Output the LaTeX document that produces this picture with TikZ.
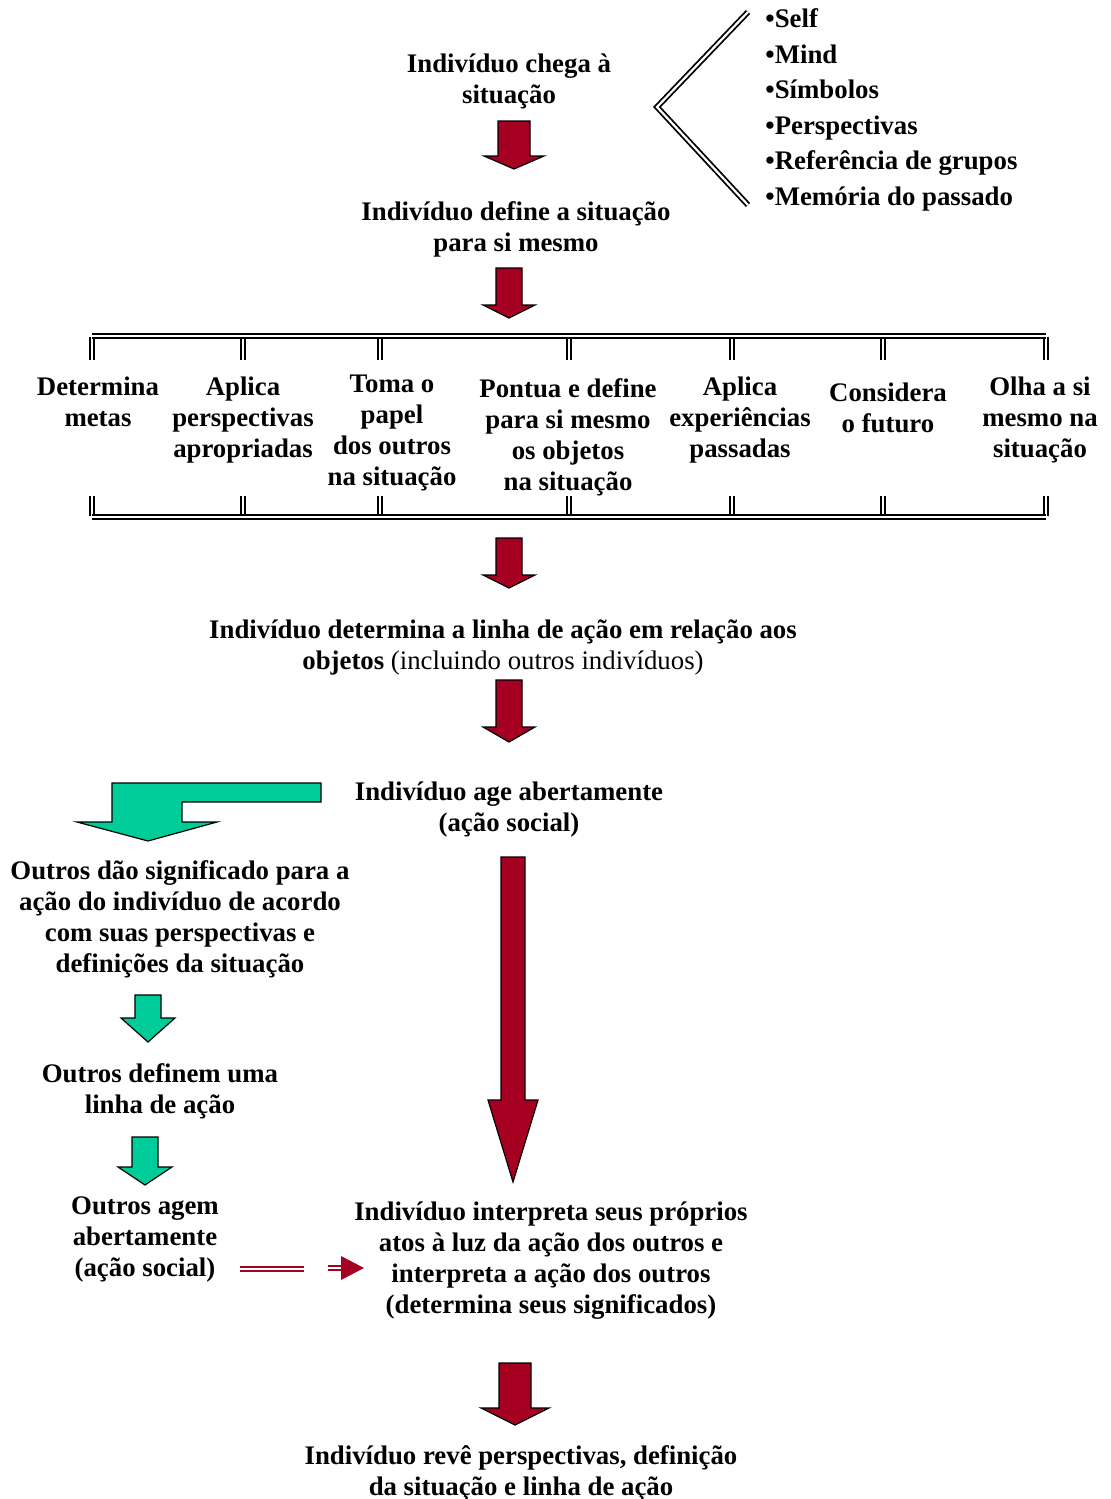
\documentclass[tikz,border=0pt]{standalone}
\usepackage{fontspec}
\setmainfont{Liberation Serif}

\definecolor{arrred}{RGB}{165,0,33}
\definecolor{arrgreen}{RGB}{0,204,153}

\tikzset{
  lbl/.style={font=\fontsize{13.4}{15.5}\selectfont\bfseries, align=center, inner sep=0pt},
  redfill/.style={fill=arrred, draw=black, line width=0.6pt},
  greenfill/.style={fill=arrgreen, draw=black, line width=0.6pt},
  dbl/.style={double, line width=0.9pt, double distance=1.1pt},
  dblred/.style={draw=arrred, double=white, line width=0.9pt, double distance=1.2pt},
}

% seta larga para baixo: estilo, x, topo, base da ponta, ponta, meia haste, meia ponta
\newcommand{\blockdown}[7]{%
  \draw[#1] (#2-#6,#3) -- (#2+#6,#3) -- (#2+#6,#4) -- (#2+#7,#4) -- (#2,#5)
    -- (#2-#7,#4) -- (#2-#6,#4) -- cycle;}

\begin{document}
\begin{tikzpicture}[x=0.5pt,y=-0.5pt]
\useasboundingbox (0,0) rectangle (1111,1499);

% topo
\node[lbl] (chega) at (509,81) {Indivíduo chega à\\situação};
\blockdown{redfill}{514}{121}{156}{169}{16}{30}
\node[lbl] (define) at (516,229) {Indivíduo define a situação\\para si mesmo};

% chave e lista
\draw[dbl] (748,12) -- (657,107) -- (748,205);
\node[lbl, align=left, anchor=west, font=\fontsize{13.4}{17.8}\selectfont\bfseries] (lista) at (765,110)
  {•Self\\•Mind\\•Símbolos\\•Perspectivas\\•Referência de grupos\\•Memória do passado};

\blockdown{redfill}{509}{268}{305}{318}{13}{26}

% caixa de etapas
\foreach \x in {92,243,380,569,732,883,1046}{
  \draw[dbl] (\x,337) -- (\x,360);
  \draw[dbl] (\x,496) -- (\x,516);
}
\draw[dbl] (92,336) -- (1046,336);
\draw[dbl] (92,517) -- (1046,517);
\node[lbl] (metas) at (98,402) {Determina\\metas};
\node[lbl] (persp) at (243,420) {Aplica\\perspectivas\\apropriadas};
\node[lbl] (papel) at (392,433) {Toma o\\papel\\dos outros\\na situação};
\node[lbl] (objetos) at (568,437) {Pontua e define\\para si mesmo\\os objetos\\na situação};
\node[lbl] (exper) at (740,420) {Aplica\\experiências\\passadas};
\node[lbl] (futuro) at (888,408) {Considera\\o futuro};
\node[lbl] (olha) at (1040,420) {Olha a si\\mesmo na\\situação};

\blockdown{redfill}{509}{538}{575}{588}{13}{26}
\node[lbl] (linha) at (503,648) {Indivíduo determina a linha de ação em relação aos\\objetos {\mdseries(incluindo outros indivíduos)}};
\blockdown{redfill}{509}{680}{727}{742}{13}{26}
\node[lbl] (age) at (509,810) {Indivíduo age abertamente\\(ação social)};

% ramo dos outros
\draw[greenfill] (321,783) -- (112,783) -- (112,822) -- (77,822) -- (148,841)
  -- (217,822) -- (182,822) -- (182,802) -- (321,802) -- cycle;
\node[lbl] (outros) at (180,919) {Outros dão significado para a\\ação do indivíduo de acordo\\com suas perspectivas e\\definições da situação};
\blockdown{greenfill}{148}{995}{1018}{1042}{13}{27}
\node[lbl] (definem) at (160,1091) {Outros definem uma\\linha de ação};
\blockdown{greenfill}{145}{1137}{1167}{1185}{13}{27}
\node[lbl] (agem) at (145,1239) {Outros agem\\abertamente\\(ação social)};

% ramo do indivíduo
\blockdown{redfill}{513}{857}{1100}{1182}{12}{25}
\node[lbl] (interp) at (551,1261) {Indivíduo interpreta seus próprios\\atos à luz da ação dos outros e\\interpreta a ação dos outros\\(determina seus significados)};

% seta dupla
\coordinate (d1) at (240,1269);
\coordinate (d2) at (304,1269);
\coordinate (d3) at (328,1268);
\coordinate (d4) at (343,1268);
\draw[dblred] (d1) -- (d2);
\draw[dblred] (d3) -- (d4);
\fill[arrred] (341,1256) -- (364,1268) -- (341,1280) -- cycle;

\blockdown{redfill}{515}{1363}{1408}{1425}{16}{34}
\node[lbl] (reve) at (521,1473) {Indivíduo revê perspectivas, definição\\da situação e linha de ação};
\end{tikzpicture}
\end{document}
